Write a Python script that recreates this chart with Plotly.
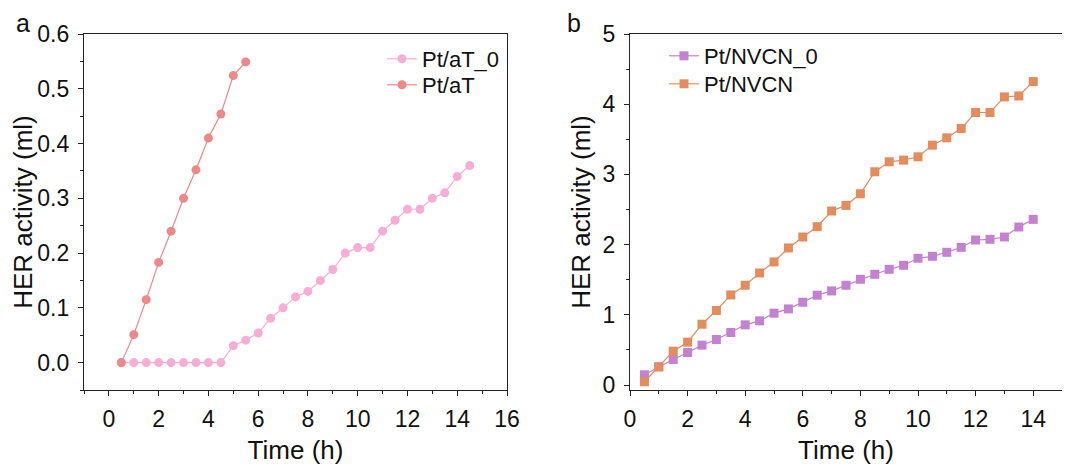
import plotly.graph_objects as go

# Panel a data
time_a = [0.5, 1, 1.5, 2, 2.5, 3, 3.5, 4, 4.5, 5, 5.5, 6, 6.5, 7, 7.5, 8, 8.5, 9, 9.5,
          10, 10.5, 11, 11.5, 12, 12.5, 13, 13.5, 14, 14.5]
pt_at_0 = [0, 0, 0, 0, 0, 0, 0, 0, 0, 0.031, 0.041, 0.054, 0.081, 0.100, 0.120, 0.130,
           0.150, 0.170, 0.200, 0.210, 0.210, 0.240, 0.260, 0.280, 0.280, 0.300, 0.310,
           0.340, 0.360]
time_a2 = [0.5, 1, 1.5, 2, 2.5, 3, 3.5, 4, 4.5, 5, 5.5]
pt_at = [0, 0.051, 0.115, 0.183, 0.240, 0.300, 0.352, 0.410, 0.454, 0.524, 0.549]

# Panel b data
time_b = [0.5, 1, 1.5, 2, 2.5, 3, 3.5, 4, 4.5, 5, 5.5, 6, 6.5, 7, 7.5, 8, 8.5, 9, 9.5,
          10, 10.5, 11, 11.5, 12, 12.5, 13, 13.5, 14]
pt_nvcn_0 = [0.147, 0.26, 0.365, 0.464, 0.569, 0.649, 0.749, 0.858, 0.915, 1.024, 1.085,
             1.18, 1.28, 1.341, 1.422, 1.507, 1.578, 1.649, 1.706, 1.806, 1.834, 1.891,
             1.962, 2.066, 2.076, 2.109, 2.251, 2.36]
pt_nvcn = [0.047, 0.26, 0.483, 0.611, 0.867, 1.062, 1.284, 1.422, 1.597, 1.754, 1.953,
           2.109, 2.256, 2.479, 2.559, 2.725, 3.038, 3.18, 3.204, 3.251, 3.417, 3.521,
           3.654, 3.882, 3.882, 4.104, 4.118, 4.322]

FONT = "Liberation Sans, Arial, sans-serif"
C_PINK = "#F8ADD6"
C_CORAL = "#F08888"
C_PURPLE = "#C481D1"
C_ORANGE = "#E58C5C"

W, H = 1062, 460  # page body has an 8px margin inside the 1070x468 window

fig = go.Figure()
fig.add_trace(go.Scatter(x=time_a, y=pt_at_0, name="Pt/aT_0", mode="lines+markers",
                         line=dict(color=C_PINK, width=1.2),
                         marker=dict(symbol="circle", size=9, color=C_PINK),
                         xaxis="x", yaxis="y", legend="legend"))
fig.add_trace(go.Scatter(x=time_a2, y=pt_at, name="Pt/aT", mode="lines+markers",
                         line=dict(color=C_CORAL, width=1.2),
                         marker=dict(symbol="circle", size=9, color=C_CORAL),
                         xaxis="x", yaxis="y", legend="legend2"))
fig.add_trace(go.Scatter(x=time_b, y=pt_nvcn_0, name="Pt/NVCN_0", mode="lines+markers",
                         line=dict(color=C_PURPLE, width=1.2),
                         marker=dict(symbol="square", size=9, color=C_PURPLE),
                         xaxis="x2", yaxis="y2", legend="legend3"))
fig.add_trace(go.Scatter(x=time_b, y=pt_nvcn, name="Pt/NVCN", mode="lines+markers",
                         line=dict(color=C_ORANGE, width=1.2),
                         marker=dict(symbol="square", size=9, color=C_ORANGE),
                         xaxis="x2", yaxis="y2", legend="legend4"))

ax_common = dict(showline=True, linecolor="#222222", linewidth=1.3, mirror=True,
                 ticks="outside", ticklen=5, tickwidth=1.2, tickcolor="#222222",
                 showgrid=False, zeroline=False, automargin=False,
                 tickfont=dict(family=FONT, size=23, color="#111111"))


def px_x(v):
    return (v - 8) / W


def px_y(v):
    return 1 - (v - 8) / H


def leg(xp, yp):
    return dict(x=px_x(xp), y=px_y(yp), xanchor="left", yanchor="top",
                bgcolor="rgba(0,0,0,0)", font=dict(family=FONT, size=22),
                tracegroupgap=0, itemwidth=30)


ydom = [px_y(390), px_y(34)]

fig.update_layout(
    width=W, height=H,
    margin=dict(l=0, r=0, t=0, b=0),
    paper_bgcolor="white", plot_bgcolor="white",
    font=dict(family=FONT, color="#111111"),
    xaxis=dict(domain=[px_x(84), px_x(507)], range=[-1, 16], tickmode="linear",
               tick0=0, dtick=2, anchor="y",
               minor=dict(ticks="outside", ticklen=3, dtick=1, tick0=0, tickcolor="#222222"),
               title=dict(text="Time (h)", font=dict(family=FONT, size=26), standoff=10),
               ticklabelstandoff=3, **ax_common),
    yaxis=dict(domain=ydom, range=[-0.05, 0.6], tickmode="linear", tick0=0, dtick=0.1,
               tickformat=".1f", anchor="x",
               minor=dict(ticks="outside", ticklen=3, dtick=0.05, tick0=0, tickcolor="#222222"),
               title=dict(text="HER activity (ml)", font=dict(family=FONT, size=26), standoff=6),
               ticklabelstandoff=4, **ax_common),
    xaxis2=dict(domain=[px_x(630), px_x(1062)], range=[0, 15], tickmode="linear",
                tick0=0, dtick=2, anchor="y2",
                minor=dict(ticks="outside", ticklen=3, dtick=1, tick0=0, tickcolor="#222222"),
                title=dict(text="Time (h)", font=dict(family=FONT, size=26), standoff=10),
                ticklabelstandoff=3, **ax_common),
    yaxis2=dict(domain=ydom, range=[-0.07, 5], tickmode="linear", tick0=0, dtick=1,
                anchor="x2",
                minor=dict(ticks="outside", ticklen=3, dtick=0.5, tick0=0, tickcolor="#222222"),
                title=dict(text="HER activity (ml)", font=dict(family=FONT, size=26), standoff=4),
                ticklabelstandoff=4, **ax_common),
    legend=leg(382, 38),
    legend2=leg(382, 64),
    legend3=leg(664, 35),
    legend4=leg(664, 63),
    showlegend=True,
    annotations=[
        dict(text="a", x=px_x(23), y=1, xref="paper", yref="paper",
             xanchor="center", yanchor="top", borderpad=0,
             showarrow=False, font=dict(family=FONT, size=25)),
        dict(text="b", x=px_x(574), y=1, xref="paper", yref="paper",
             xanchor="center", yanchor="top", borderpad=0,
             showarrow=False, font=dict(family=FONT, size=25)),
    ],
)

fig.write_html("out.html")
